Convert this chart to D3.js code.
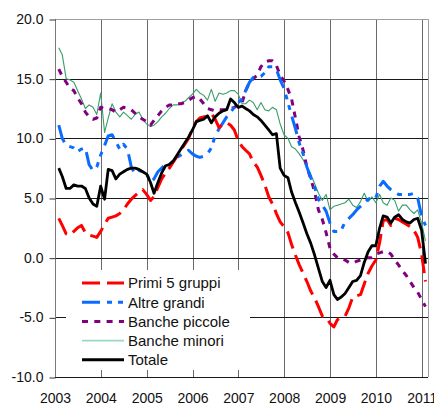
<!DOCTYPE html>
<html><head><meta charset="utf-8">
<script src="https://cdn.jsdelivr.net/npm/d3@7"></script>
<style>html,body{margin:0;padding:0;background:#fff;} svg{display:block;}</style>
</head><body><svg id="c" width="434" height="405"></svg>
<script>
// ---- data ----
const years = [2003,2004,2005,2006,2007,2008,2009,2010,2011];
const yTicks = [-10,-5,0,5,10,15,20];
const yTickLabels = ["-10.0","-5.0","0.0","5.0","10.0","15.0","20.0"];
const seriesNames = ["Primi 5 gruppi","Altre grandi","Banche piccole","Banche minori","Totale"];
// monthly observations, Jan 2003 - Jan 2011 (end of month)
const months = d3.timeMonth.range(new Date(2003,1,1), new Date(2011,2,1)).map(d => d3.timeDay.offset(d,-1));

const primi5 = [3.3,2.7,2.0,1.9,2.2,2.5,2.7,2.1,1.9,1.8,
 1.7,2.2,2.8,3.3,3.4,3.5,3.7,4.0,4.5,4.9,
 5.2,5.5,5.7,5.3,4.8,5.1,5.9,6.6,7.1,7.5,
 8.0,8.5,9.0,9.5,10.0,10.8,11.4,11.7,11.8,11.8,
 12.1,11.6,10.9,11.2,11.3,11.1,10.7,9.8,9.3,9.0,
 8.7,8.0,7.6,6.9,6.1,5.1,4.5,3.7,3.0,2.6,
 2.1,1.1,0.2,-0.6,-1.3,-2.0,-2.8,-3.4,-4.1,-4.9,
 -5.0,-5.5,-5.8,-5.2,-5.0,-4.9,-4.2,-3.3,-3.2,-3.1,
 -2.2,-1.3,-0.7,-0.2,1.3,3.1,3.2,2.7,3.3,3.2,
 3.0,2.8,2.6,2.3,1.7,0.3,-2.0];
const altreGrandi = [11.1,10.0,9.4,9.3,9.2,8.9,9.1,9.2,7.8,7.3,
 7.6,8.6,9.4,10.2,10.3,9.7,9.1,9.5,9.1,7.6,
 7.0,7.3,7.2,7.1,6.3,6.6,7.2,7.5,7.9,7.8,
 8.1,8.4,8.6,8.8,9.0,8.7,8.5,8.4,8.5,8.7,
 9.2,10.2,10.8,11.3,11.8,12.2,12.6,13.0,13.3,14.0,
 14.7,15.1,15.2,15.2,15.5,16.0,16.0,15.8,14.9,14.2,
 13.0,11.9,10.8,9.6,8.7,7.6,6.7,5.9,4.9,4.4,
 3.9,2.9,2.2,2.2,2.3,3.0,3.3,3.6,4.0,4.3,
 4.6,4.9,5.0,5.0,6.0,6.4,6.0,5.7,5.5,5.3,
 5.3,5.3,5.3,5.4,5.0,3.5,2.7];
const banchePiccole = [15.8,15.2,14.7,14.2,14.0,13.4,12.9,12.2,11.8,11.6,
 11.7,12.6,12.5,12.5,12.4,12.2,12.4,12.6,12.5,12.4,
 12.1,11.8,11.6,11.4,11.1,11.5,11.9,12.3,12.6,12.8,
 12.8,12.9,12.9,13.0,13.2,13.4,13.5,13.3,12.9,12.5,
 12.4,12.3,12.4,12.4,12.4,12.5,12.6,12.8,13.0,14.0,
 14.7,15.0,15.3,16.0,16.4,16.5,16.5,16.1,15.3,14.8,
 14.1,13.3,11.7,10.1,9.0,7.6,6.6,5.5,4.0,3.2,
 2.1,0.8,0.3,0.0,-0.1,-0.2,-0.4,-0.45,-0.3,-0.2,
 -0.1,0.0,0.0,0.3,0.4,0.5,0.5,0.3,-0.2,-0.6,
 -1.1,-1.5,-2.0,-2.5,-2.9,-3.5,-4.1];
const bancheMinori = [17.6,17.0,15.0,14.9,14.7,14.0,13.3,12.5,12.8,12.6,
 12.0,13.8,10.5,11.7,12.9,12.2,11.8,12.2,11.9,11.6,
 12.0,12.2,11.6,11.2,11.0,11.1,11.4,11.8,12.1,12.5,
 12.8,12.8,12.9,13.1,13.4,13.7,14.1,13.8,13.6,13.2,
 14.1,13.1,13.8,13.7,13.8,14.0,14.0,13.7,12.9,12.9,
 13.2,13.0,12.4,13.0,12.4,12.3,12.6,12.4,11.2,10.3,
 10.0,9.3,9.1,8.7,8.2,7.6,7.0,6.2,5.4,4.8,
 5.3,4.0,4.3,4.4,4.5,4.6,4.9,4.4,4.2,4.7,
 5.4,4.7,5.1,4.6,5.3,4.6,4.4,5.0,4.8,3.9,
 4.4,4.4,4.0,3.7,4.0,2.9,1.4];
const totale = [7.5,6.8,5.8,5.8,6.1,6.0,6.0,5.8,5.0,4.5,
 4.3,6.0,4.9,7.4,7.3,6.6,7.0,7.2,7.4,7.5,
 7.5,7.4,7.2,7.0,6.3,5.4,6.3,7.1,7.7,7.8,
 8.1,8.6,9.1,9.6,10.1,10.7,11.4,11.5,11.6,11.9,
 11.3,11.8,12.1,12.3,12.4,13.3,13.0,12.6,12.7,12.5,
 12.3,12.0,11.8,11.5,11.1,10.7,10.3,10.4,7.5,6.9,
 6.7,5.5,4.6,3.8,2.9,2.0,1.2,0.2,-0.9,-2.0,
 -2.5,-1.9,-3.1,-3.5,-3.3,-3.0,-2.5,-2.0,-1.9,-1.5,
 -0.4,0.5,1.0,1.0,2.5,3.5,3.4,2.9,3.4,3.6,
 3.2,3.0,2.9,3.2,3.3,2.3,-0.5];

// ---- styles ----
const styles = [
  {color:"#ff0000", width:3, dash:"18,7", legendColor:"#ff0000"},
  {color:"#0a6cff", width:3, dash:"18,7,5,6,5,7", legendColor:"#0a6cff"},
  {color:"#800080", width:3, dash:"6,6.3", legendColor:"#800080"},
  {color:"#3a9d6a", width:1.1, dash:null, legendColor:"#9ad8bf"},
  {color:"#000000", width:2.8, dash:null, legendColor:"#000000"}
];
const allSeries = [primi5, altreGrandi, banchePiccole, bancheMinori, totale];

// ---- scales ----
const L = 55, R = 428, T = 19, B = 377;
const x = d3.scaleTime().domain([new Date(2003,0,1), new Date(2011,1,20)]).range([L, R]);
const y = d3.scaleLinear().domain([-10,20]).range([B, T]);
const svg = d3.select("#c");
const font = "'Liberation Sans', Arial, sans-serif";
const px = v => Math.round(v) + 0.5;

// vertical grid (years)
svg.append("g").selectAll("line").data(years.slice(1)).join("line")
  .attr("x1", d => px(x(new Date(d,0,1)))).attr("x2", d => px(x(new Date(d,0,1))))
  .attr("y1", T).attr("y2", B)
  .attr("stroke", "#6a6a6a").attr("stroke-width", 1);
// horizontal grid
svg.append("g").selectAll("line").data(yTicks.filter(v => v > -10 && v < 20)).join("line")
  .attr("x1", L).attr("x2", R)
  .attr("y1", d => px(y(d))).attr("y2", d => px(y(d)))
  .attr("stroke", "#1a1a1a").attr("stroke-width", 1);
// frame
svg.append("line").attr("x1", L).attr("x2", R).attr("y1", px(y(20))).attr("y2", px(y(20))).attr("stroke", "#a0a0a0");
svg.append("line").attr("x1", px(R)).attr("x2", px(R)).attr("y1", T).attr("y2", B).attr("stroke", "#a0a0a0");

// legend background (covers grid)
svg.append("rect").attr("x", 66).attr("y", 270).attr("width", 184).attr("height", 100).attr("fill", "#fff");

// y axis
const yAxis = d3.axisLeft(y).tickValues(yTicks).tickFormat((d,i) => yTickLabels[i]).tickSize(6).tickPadding(6);
const gy = svg.append("g").attr("transform", `translate(${px(L)},0)`).call(yAxis);
gy.select(".domain").attr("stroke", "#7a7a7a").attr("d", `M0,${T}V${B}`);
gy.selectAll(".tick line").attr("stroke", "#333").attr("transform", "translate(0,0.5)");
gy.selectAll("text").attr("font-family", font).attr("font-size", 14).attr("fill", "#111");

// x axis
const xAxis = d3.axisBottom(x).tickValues(years.map(d => new Date(d,0,1))).tickFormat(d3.timeFormat("%Y")).tickSize(0).tickPadding(16);
const gx = svg.append("g").attr("transform", `translate(0,${px(B)})`).call(xAxis);
gx.select(".domain").attr("stroke", "#1a1a1a").attr("d", `M${L},0H${R}`);
gx.selectAll("text").attr("font-family", font).attr("font-size", 14).attr("fill", "#111");

// series
const line = d3.line().x(d => x(d[0])).y(d => y(d[1])).curve(d3.curveLinear);
allSeries.forEach((s, k) => {
  const order = [3,2,1,0,4];
});
[3,2,1,0,4].forEach(k => {
  const st = styles[k];
  svg.append("path").datum(months.map((m,i) => [m, allSeries[k][i]]))
    .attr("d", line).attr("fill", "none")
    .attr("stroke", st.color).attr("stroke-width", st.width)
    .attr("stroke-dasharray", st.dash).attr("stroke-linejoin", "round");
});

// legend
const lg = svg.append("g");
seriesNames.forEach((n, k) => {
  const yy = 283 + k * 19.2;
  const st = styles[k];
  lg.append("line").attr("x1", 82).attr("x2", 124).attr("y1", yy).attr("y2", yy)
    .attr("stroke", st.legendColor).attr("stroke-width", k === 3 ? 1.6 : 3)
    .attr("stroke-dasharray", st.dash);
  lg.append("text").attr("x", 128).attr("y", yy + 5.3).text(n)
    .attr("font-family", font).attr("font-size", 15).attr("fill", "#111");
});
</script></body></html>
